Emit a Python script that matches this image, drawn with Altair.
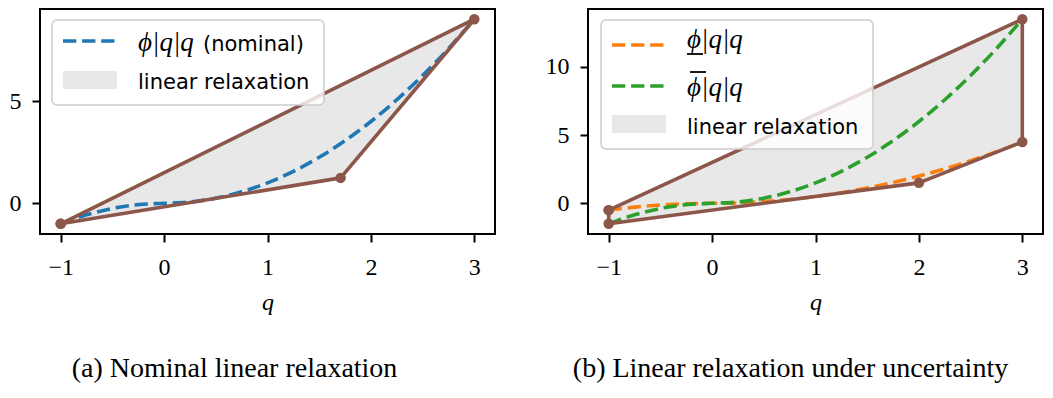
import altair as alt
import pandas as pd

# ---------------- data ----------------
q_vals = [-1.0, -0.75, -0.5, -0.25, 0.0, 0.25, 0.5, 0.75, 1.0, 1.25, 1.5,
          1.75, 2.0, 2.25, 2.5, 2.75, 3.0]
nominal_vals = [-1.0, -0.5625, -0.25, -0.0625, 0.0, 0.0625, 0.25, 0.5625, 1.0,
                1.5625, 2.25, 3.0625, 4.0, 5.0625, 6.25, 7.5625, 9.0]
lower_vals = [-0.5, -0.28125, -0.125, -0.03125, 0.0, 0.03125, 0.125, 0.28125, 0.5,
              0.78125, 1.125, 1.53125, 2.0, 2.53125, 3.125, 3.78125, 4.5]
upper_vals = [-1.5, -0.84375, -0.375, -0.09375, 0.0, 0.09375, 0.375, 0.84375, 1.5,
              2.34375, 3.375, 4.59375, 6.0, 7.59375, 9.375, 11.34375, 13.5]

# relaxation polygon (a)
poly_a_q = [-1.0, 1.7071, 3.0, -1.0]
poly_a_y = [-1.0, 1.2426, 9.0, -1.0]
fill_a_q = [-1.0, 1.7071, 3.0]
fill_a_lo = [-1.0, 1.2426, 9.0]
fill_a_hi = [-1.0, 5.7678, 9.0]

# relaxation polygon (b)
poly_b_q = [-1.0, 3.0, 3.0, 2.0, -1.0, -1.0]
poly_b_y = [-0.5, 13.5, 4.5, 1.5, -1.5, -0.5]
fill_b_q = [-1.0, 2.0, 3.0]
fill_b_lo = [-1.5, 1.5, 4.5]
fill_b_hi = [-0.5, 10.0, 13.5]

x_ticks = [-1, 0, 1, 2, 3]
y_ticks_a = [0, 5]
y_ticks_b = [0, 5, 10]

caption_a = "(a) Nominal linear relaxation"
caption_b = "(b) Linear relaxation under uncertainty"
label_phi = "\u03d5|q|q"
label_nominal = "(nominal)"
label_relax = "linear relaxation"

# ---------------- style ----------------
BLUE = "#1f77b4"
ORANGE = "#ff7f0e"
GREEN = "#2ca02c"
BROWN = "#8c564b"
FILLGRAY = "#e8e8e8"
LW = 3.6
DASH = [13.3, 5.8]
SERIF = "Liberation Serif"
SANS = "DejaVu Sans"
H = 225
W = 455


def base_layers(xdom, ydom, yticks, curves, pq, py, fq, flo, fhi):
    xs = alt.Scale(domain=xdom, nice=False, zero=False)
    ys = alt.Scale(domain=ydom, nice=False, zero=False)
    xax = alt.Axis(values=x_ticks, title="q", format="d")
    yax = alt.Axis(values=yticks, title=None, format="d")

    fill_df = pd.DataFrame({"q": fq, "lo": flo, "hi": fhi})
    fill = alt.Chart(fill_df).mark_area(color=FILLGRAY, opacity=1).encode(
        x=alt.X("q:Q", scale=xs, axis=xax),
        y=alt.Y("hi:Q", scale=ys, axis=yax),
        y2="lo:Q",
    )
    layers = [fill]
    for vals, col in curves:
        df = pd.DataFrame({"q": q_vals, "v": vals})
        layers.append(
            alt.Chart(df).mark_line(color=col, strokeWidth=LW, strokeDash=DASH,
                                    interpolate="monotone").encode(
                x=alt.X("q:Q", scale=xs), y=alt.Y("v:Q", scale=ys))
        )
    poly_df = pd.DataFrame({"q": pq, "y": py, "i": list(range(len(pq)))})
    layers.append(
        alt.Chart(poly_df).mark_line(color=BROWN, strokeWidth=LW, strokeJoin="round").encode(
            x=alt.X("q:Q", scale=xs), y=alt.Y("y:Q", scale=ys), order="i:Q")
    )
    layers.append(
        alt.Chart(poly_df).mark_circle(color=BROWN, size=110, opacity=1).encode(
            x=alt.X("q:Q", scale=xs), y=alt.Y("y:Q", scale=ys))
    )
    return layers


def one(row=None):
    return pd.DataFrame({"t": [row if row is not None else ""]})


def box(x, x2, y, y2):
    return alt.Chart(one()).mark_rect(fill="white", fillOpacity=0.8, stroke="#cccccc",
                                      strokeWidth=1.5, cornerRadius=5).encode(
        x=alt.value(x), x2=alt.value(x2), y=alt.value(y), y2=alt.value(y2))


def dash_sample(x, x2, y, col):
    return alt.Chart(one()).mark_rule(color=col, strokeWidth=LW, strokeDash=DASH).encode(
        x=alt.value(x), x2=alt.value(x2), y=alt.value(y))


def bar_line(x, x2, y):
    return alt.Chart(one()).mark_rule(color="black", strokeWidth=1.8).encode(
        x=alt.value(x), x2=alt.value(x2), y=alt.value(y))


def patch(x, x2, y, y2):
    return alt.Chart(one()).mark_rect(color=FILLGRAY, opacity=1).encode(
        x=alt.value(x), x2=alt.value(x2), y=alt.value(y), y2=alt.value(y2))


def text(label, x, y, font, size, style="normal"):
    return alt.Chart(one(label)).mark_text(align="left", baseline="alphabetic", font=font,
                                           fontSize=size, fontStyle=style,
                                           color="black").encode(
        x=alt.value(x), y=alt.value(y), text="t:N")


# ---------------- panel (a) ----------------
layers_a = base_layers([-1.2, 3.2], [-1.5, 9.5], y_ticks_a, [(nominal_vals, BLUE)],
                       poly_a_q, poly_a_y, fill_a_q, fill_a_lo, fill_a_hi)
layers_a += [
    box(12, 284, 11, 96),
    dash_sample(23, 77, 32, BLUE),
    text(label_phi, 98, 42, SERIF, 27, "italic"),
    text(label_nominal, 163, 42, SANS, 21),
    patch(23, 77, 62, 80),
    text(label_relax, 98, 80, SANS, 21),
]
chart_a = alt.layer(*layers_a).properties(
    width=W, height=H,
    title=alt.TitleParams(caption_a, orient="bottom", anchor="middle", frame="group",
                          font=SERIF, fontSize=28, fontWeight="normal", color="black",
                          offset=41, dx=-33),
)

# ---------------- panel (b) ----------------
layers_b = base_layers([-1.2, 3.2], [-2.25, 14.25], y_ticks_b,
                       [(lower_vals, ORANGE), (upper_vals, GREEN)],
                       poly_b_q, poly_b_y, fill_b_q, fill_b_lo, fill_b_hi)
layers_b += [
    box(13, 285, 11, 140),
    dash_sample(24, 78, 36, ORANGE),
    text(label_phi, 99, 39, SERIF, 27, "italic"),
    bar_line(99, 115, 45),
    dash_sample(24, 78, 77, GREEN),
    text(label_phi, 99, 87, SERIF, 27, "italic"),
    bar_line(102, 118, 63),
    patch(24, 78, 106, 124),
    text(label_relax, 99, 125, SANS, 21),
]
chart_b = alt.layer(*layers_b).properties(
    width=W, height=H,
    title=alt.TitleParams(caption_b, orient="bottom", anchor="middle", frame="group",
                          font=SERIF, fontSize=28, fontWeight="normal", color="black",
                          offset=41, dx=-25),
)

chart = alt.hconcat(chart_a, chart_b, spacing=48).properties(
    padding={"left": 0, "top": 0, "right": 0, "bottom": 0}
).configure_view(
    stroke="black", strokeWidth=2
).configure_axis(
    domain=False, grid=False, tickColor="black", tickWidth=2, tickSize=8,
    labelFont=SERIF, labelFontSize=24, labelColor="black", labelPadding=13,
    titleFont=SERIF, titleFontSize=24, titleFontStyle="italic", titleFontWeight="normal",
    titleColor="black", titlePadding=11,
).configure_axisY(labelPadding=11)

chart.save("out.html", embed_options={"renderer": "svg", "actions": False})
